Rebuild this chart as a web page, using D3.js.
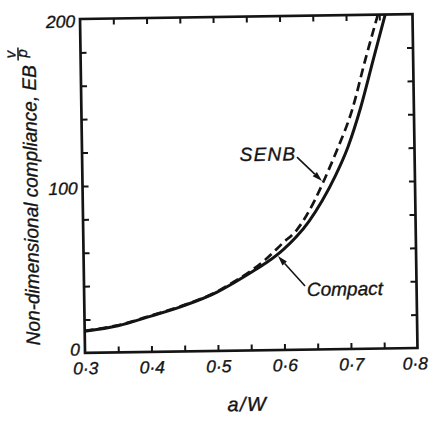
<!DOCTYPE html>
<html><head><meta charset="utf-8">
<script src="https://cdn.jsdelivr.net/npm/d3@7"></script>
<style>body{margin:0;background:#fff}svg{display:block}</style>
</head><body>
<svg id="c" width="429" height="421"></svg>
<script>
// ---- data ----
const xMinorTicks = [0.35, 0.4, 0.45, 0.5, 0.55, 0.6, 0.65, 0.7, 0.75];
const xTickLabels = [0.3, 0.4, 0.5, 0.6, 0.7, 0.8];
const yMinorTicks = [20, 40, 60, 80, 100, 120, 140, 160, 180];
const yTickLabels = [0, 100, 200];

const compactX = [0.30, 0.35, 0.40, 0.45, 0.50, 0.525, 0.55, 0.575, 0.60, 0.62, 0.64, 0.66, 0.68, 0.70, 0.72, 0.74, 0.759];
const compactY = [13.0, 16.0, 21.5, 27.5, 35.3, 40.6, 46.4, 52.5, 60.0, 67.5, 77.0, 89.0, 103.5, 121.0, 144.5, 173.0, 200.0];

const senbX = [0.30, 0.35, 0.40, 0.45, 0.50, 0.525, 0.55, 0.576, 0.60, 0.621, 0.649, 0.663, 0.6835, 0.707, 0.728, 0.748];
const senbY = [13.3, 16.3, 21.8, 27.8, 35.6, 41.2, 47.3, 55.2, 64.1, 71.7, 89.5, 101.0, 119.3, 143.0, 173.0, 200.0];

const labels = ["SENB", "Compact"];
const labelPos = [[0.537, 113.5], [0.635, 32.1]];
const arrowFrom = [[0.6231, 115.4], [0.6323, 38.1]];
const arrowTo = [[0.6602, 100.8], [0.5923, 56.3]];

// ---- layout ----
const L = 82.5, R = 415, T = 16.5, B = 350.5;
const font = "'Liberation Sans', Arial, sans-serif";
const ink = "#141414";

const svg = d3.select("#c");
svg.append("rect").attr("width", 429).attr("height", 421).attr("fill", "#fff");
const g = svg.append("g").attr("transform", "rotate(-0.86 248.75 183.5)");

const x = d3.scaleLinear().domain([0.3, 0.8]).range([L, R]);
const y = d3.scaleLinear().domain([0, 200]).range([B, T]);

function styleText(sel, size) {
  sel.attr("font-family", font).attr("font-style", "italic").attr("font-size", size)
    .attr("fill", ink).attr("stroke", ink).attr("stroke-width", 0.35);
  return sel;
}

function tickAxis(axis, tx, ty) {
  const a = g.append("g").attr("transform", `translate(${tx},${ty})`).call(axis);
  a.select(".domain").remove();
  a.selectAll("line").attr("stroke", ink).attr("stroke-width", 2);
  a.selectAll("text").remove();
}
tickAxis(d3.axisBottom(x).tickValues(xMinorTicks).tickSize(-6).tickSizeOuter(0), 0, B);
tickAxis(d3.axisTop(x).tickValues(xMinorTicks).tickSize(-6).tickSizeOuter(0), 0, T);
tickAxis(d3.axisLeft(y).tickValues(yMinorTicks).tickSize(-6).tickSizeOuter(0), L, 0);
tickAxis(d3.axisRight(y).tickValues(yMinorTicks).tickSize(-6).tickSizeOuter(0), R, 0);

// frame
g.append("rect").attr("x", L).attr("y", T).attr("width", R - L).attr("height", B - T)
  .attr("fill", "none").attr("stroke", ink).attr("stroke-width", 2.7);

// tick labels
const xl = g.append("g").attr("transform", `translate(0,${B})`)
  .call(d3.axisBottom(x).tickValues(xTickLabels).tickSize(0).tickPadding(9)
    .tickFormat(d => d3.format(".1f")(d).replace(".", "\u00b7")));
xl.select(".domain").remove();
styleText(xl.selectAll("text"), 17.5).attr("dx", d => d === 0.8 ? -3 : 0);

const yl = g.append("g").attr("transform", `translate(${L},0)`)
  .call(d3.axisLeft(y).tickValues(yTickLabels).tickSize(0).tickPadding(5).tickFormat(d3.format("d")));
yl.select(".domain").remove();
styleText(yl.selectAll("text"), 17.5).attr("dy", d => d === 0 ? "0.12em" : "0.45em");

// curves
const line = d3.line().x(d => x(d[0])).y(d => y(d[1])).curve(d3.curveMonotoneX);
g.append("path").datum(compactX.map((v, i) => [v, compactY[i]]))
  .attr("d", line).attr("fill", "none").attr("stroke", ink).attr("stroke-width", 3);
g.append("path").datum(senbX.map((v, i) => [v, senbY[i]]))
  .attr("d", line).attr("fill", "none").attr("stroke", ink).attr("stroke-width", 2.7)
  .attr("stroke-dasharray", "9,5");

// annotations
labels.forEach((t, i) => {
  styleText(g.append("text").attr("x", x(labelPos[i][0])).attr("y", y(labelPos[i][1])), 19)
    .attr("letter-spacing", i === 0 ? 1.2 : 0).text(t);
  const x0 = x(arrowFrom[i][0]), y0 = y(arrowFrom[i][1]);
  const x1 = x(arrowTo[i][0]), y1 = y(arrowTo[i][1]);
  const dx = x1 - x0, dy = y1 - y0, len = Math.hypot(dx, dy);
  const ux = dx / len, uy = dy / len, hl = 10, hw = 3;
  const bx = x1 - ux * hl, by = y1 - uy * hl;
  g.append("line").attr("x1", x0).attr("y1", y0).attr("x2", bx).attr("y2", by)
    .attr("stroke", ink).attr("stroke-width", 1.6);
  g.append("path").attr("d", `M${x1},${y1}L${bx - uy * hw},${by + ux * hw}L${bx + uy * hw},${by - ux * hw}Z`)
    .attr("fill", ink);
});

// axis titles
styleText(g.append("text").attr("x", 244).attr("y", 411).attr("text-anchor", "middle"), 20)
  .attr("letter-spacing", 1.5).text("a/W");

const yt = g.append("g").attr("transform", "translate(37.5,342) rotate(-90)");
styleText(yt.append("text").attr("x", 0).attr("y", 0), 19.5)
  .attr("textLength", 280).attr("lengthAdjust", "spacingAndGlyphs")
  .text("Non-dimensional compliance, EB");
styleText(yt.append("text").attr("x", 291).attr("y", -20).attr("text-anchor", "middle"), 15).text("v");
yt.append("line").attr("x1", 285).attr("x2", 298).attr("y1", -17.5).attr("y2", -17.5)
  .attr("stroke", ink).attr("stroke-width", 1.5);
styleText(yt.append("text").attr("x", 292).attr("y", -8.5).attr("text-anchor", "middle"), 15).text("p");
</script>
</body></html>
